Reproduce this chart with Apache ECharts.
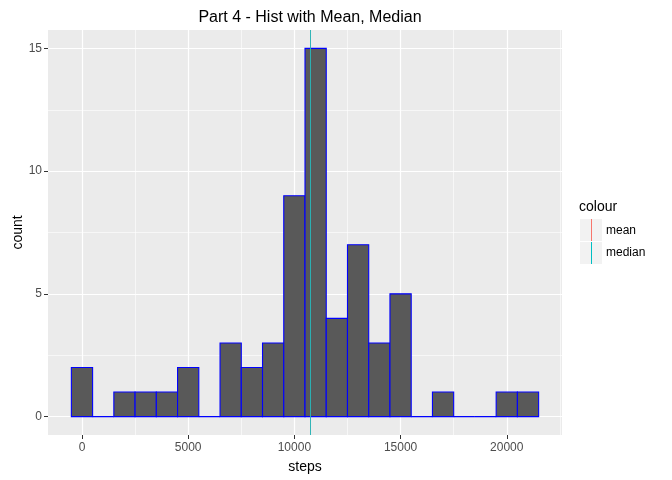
<!DOCTYPE html>
<html>
<head>
<meta charset="utf-8">
<script src="https://cdn.jsdelivr.net/npm/echarts@6/dist/echarts.min.js"></script>
<style>
  html, body { margin: 0; padding: 0; background: #fff; }
  #main { width: 672px; height: 480px; }
</style>
</head>
<body>
<div id="main"></div>
<script>
// histogram of daily steps (imputed), bins of 1000 centred on each value
var bin_centers = [0, 1000, 2000, 3000, 4000, 5000, 6000, 7000, 8000, 9000, 10000,
                   11000, 12000, 13000, 14000, 15000, 16000, 17000, 18000, 19000, 20000, 21000];
var bin_counts  = [2, 0, 1, 1, 1, 2, 0, 3, 2, 3, 9,
                   15, 4, 7, 3, 5, 0, 1, 0, 0, 1, 1];
var bin_width = 1000;
var mean_steps = 10766;
var median_steps = 10766;
var x_ticks = [0, 5000, 10000, 15000, 20000];
var y_ticks = [0, 5, 10, 15];
var x_minor = [2500, 7500, 12500, 17500, 22500];
var y_minor = [2.5, 7.5, 12.5];

var chart = {
  init: function () {
    var myChart = echarts.init(document.getElementById('main'), null, { renderer: 'canvas' });
    myChart.setOption(chart.build_option());
  },

  //gridlines are drawn as marklines so they line up with ggplot breaks
  grid_lines: function () {
    var lines = [];
    x_minor.forEach(function (v) { lines.push({ xAxis: v, lineStyle: { width: 0.6 } }); });
    y_minor.forEach(function (v) { lines.push({ yAxis: v, lineStyle: { width: 0.6 } }); });
    x_ticks.forEach(function (v) { lines.push({ xAxis: v, lineStyle: { width: 1.2 } }); });
    y_ticks.forEach(function (v) { lines.push({ yAxis: v, lineStyle: { width: 1.2 } }); });
    return lines;
  },

  build_option: function () {
    var hist_data = bin_centers.map(function (c, i) { return [c, bin_counts[i]]; });
    var font = 'Liberation Sans, Arial, sans-serif';
    return {
      animation: false,
      backgroundColor: '#ffffff',
      title: {
        text: 'Part 4 - Hist with Mean, Median',
        left: 305, top: 5, textAlign: 'center',
        textStyle: { fontFamily: font, fontSize: 16, fontWeight: 'normal', color: '#000' }
      },
      grid: {
        left: 48, right: 110, top: 30, bottom: 45,
        outerBoundsMode: 'none', containLabel: false,
        show: true, backgroundColor: '#EBEBEB', borderWidth: 0
      },
      xAxis: {
        type: 'value', min: -1600, max: 22600, position: 'bottom',
        name: 'steps', nameLocation: 'middle', nameGap: 25, nameMoveOverlap: false,
        nameTextStyle: { fontFamily: font, fontSize: 14, color: '#000' },
        axisLine: { show: false, onZero: false },
        axisTick: { show: true, length: 4, customValues: x_ticks, lineStyle: { color: '#333' } },
        axisLabel: {
          customValues: x_ticks, fontFamily: font, fontSize: 12, color: '#4D4D4D', margin: 7,
          formatter: function (v) { return String(v); }
        },
        splitLine: { show: false }
      },
      yAxis: {
        type: 'value', min: -0.75, max: 15.75, position: 'left',
        name: 'count', nameLocation: 'middle', nameGap: 23, nameRotate: 90, nameMoveOverlap: false,
        nameTextStyle: { fontFamily: font, fontSize: 14, color: '#000' },
        axisLine: { show: false, onZero: false },
        axisTick: { show: true, length: 4, customValues: y_ticks, lineStyle: { color: '#333' } },
        axisLabel: {
          customValues: y_ticks, fontFamily: font, fontSize: 12, color: '#4D4D4D', margin: 6,
          formatter: function (v) { return String(v); }
        },
        splitLine: { show: false }
      },
      series: [
        {
          // background grid
          type: 'line', data: [], silent: true, z: 1, zlevel: 0,
          markLine: {
            silent: true, symbol: 'none', label: { show: false }, z: 0,
            lineStyle: { color: '#ffffff', type: 'solid' },
            data: chart.grid_lines()
          }
        },
        {
          type: 'custom', z: 2,
          data: hist_data,
          renderItem: function (params, api) {
            var c = api.value(0), n = api.value(1);
            var tl = api.coord([c - bin_width / 2, n]);
            var br = api.coord([c + bin_width / 2, 0]);
            return {
              type: 'rect',
              shape: { x: tl[0], y: tl[1], width: br[0] - tl[0], height: br[1] - tl[1] },
              style: { fill: '#595959', stroke: '#0000FF', lineWidth: 1.1 }
            };
          }
        },
        {
          type: 'line', data: [], silent: true, z: 3,
          markLine: {
            silent: true, symbol: 'none', label: { show: false }, z: 10,
            data: [
              { xAxis: mean_steps, lineStyle: { color: '#F8766D', width: 0.8, type: 'solid' } },
              { xAxis: median_steps, lineStyle: { color: '#00BFC4', width: 0.8, type: 'solid' } }
            ]
          }
        }
      ],
      //legend drawn by hand to look like the ggplot key
      graphic: [
        { type: 'text', left: 579, top: 200, style: { text: 'colour', font: '14px ' + font, fill: '#000' } },
        { type: 'rect', shape: { x: 580, y: 219, width: 22, height: 22 }, style: { fill: '#F2F2F2' } },
        { type: 'rect', shape: { x: 580, y: 242, width: 22, height: 22 }, style: { fill: '#F2F2F2' } },
        { type: 'line', shape: { x1: 591.5, y1: 219, x2: 591.5, y2: 241 }, style: { stroke: '#F8766D', lineWidth: 1 } },
        { type: 'line', shape: { x1: 591.5, y1: 242, x2: 591.5, y2: 264 }, style: { stroke: '#00BFC4', lineWidth: 1 } },
        { type: 'text', left: 606, top: 225, style: { text: 'mean', font: '12px ' + font, fill: '#000' } },
        { type: 'text', left: 606, top: 247, style: { text: 'median', font: '12px ' + font, fill: '#000' } }
      ]
    };
  }
};

chart.init();
</script>
</body>
</html>
